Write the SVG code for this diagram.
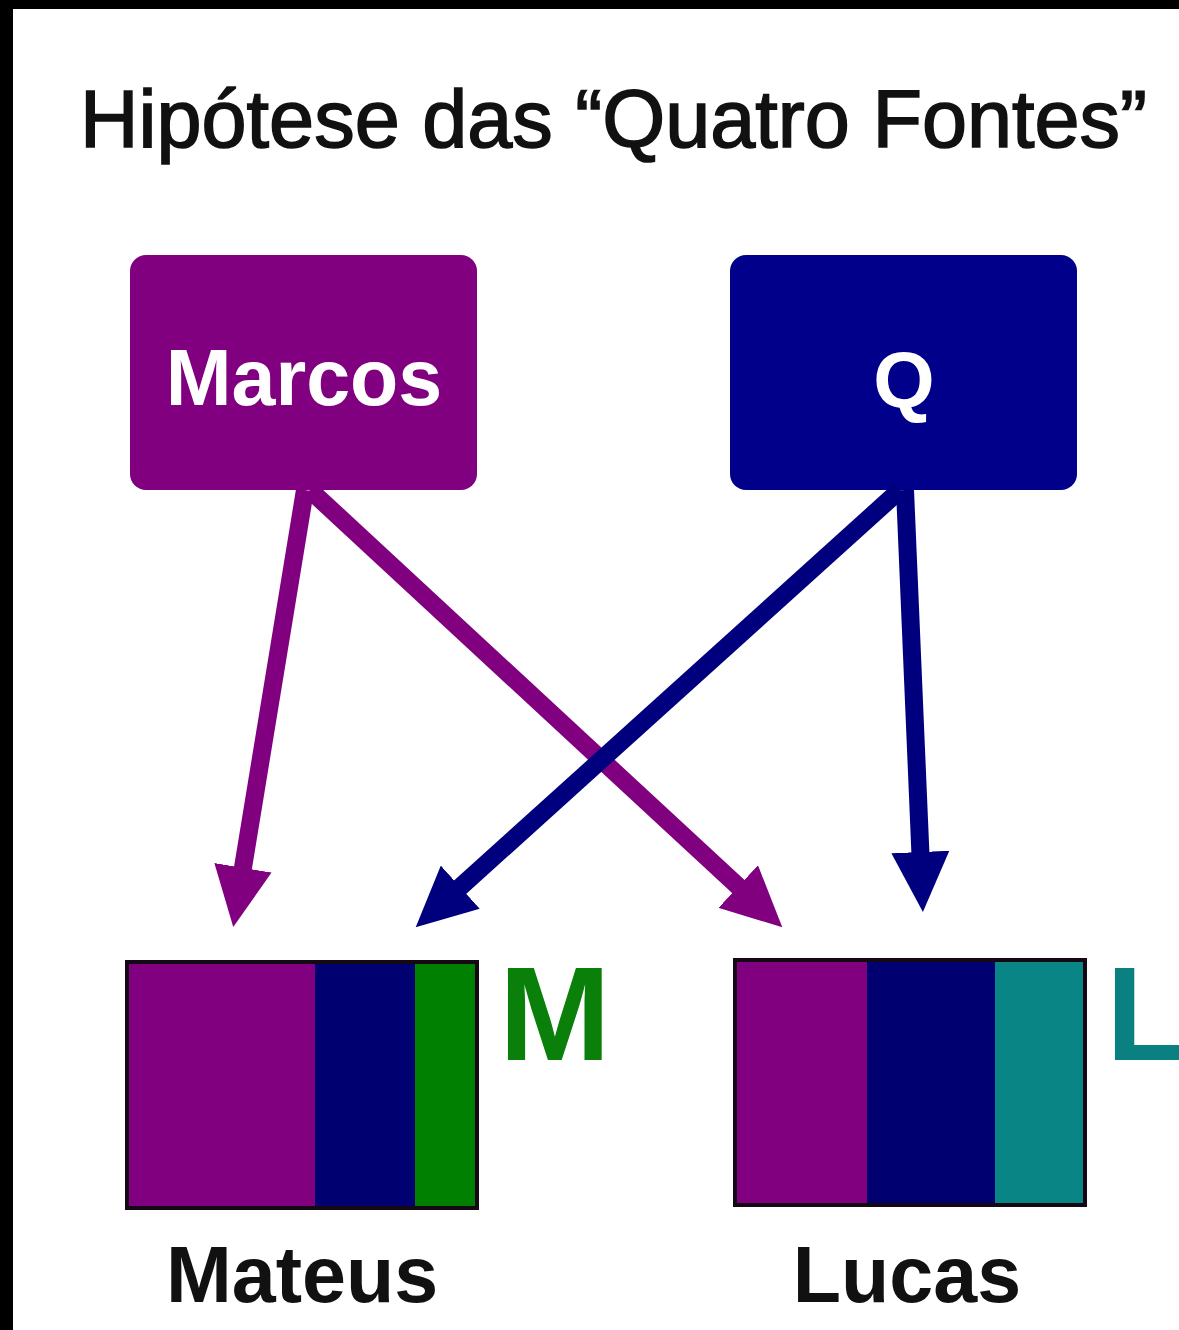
<svg xmlns="http://www.w3.org/2000/svg" width="1179" height="1330" viewBox="0 0 1179 1330">
  <style>
    .title { font-family: "Liberation Sans", Arial, sans-serif; font-size: 81px; fill: #111; stroke: #111; stroke-width: 1.6px; }
    .lbl { font-family: "Liberation Sans", Arial, sans-serif; font-weight: bold; }
    .src { font-size: 79px; fill: #ffffff; }
    .gospel { font-size: 79px; fill: #111; }
    .tag { font-size: 134px; }
    .edge { fill: none; stroke-width: 18; stroke-linecap: butt; }
    .frame { stroke: #150815; stroke-width: 4; fill: none; }
  </style>
  <defs>
    <marker id="headP" markerUnits="userSpaceOnUse" markerWidth="62" markerHeight="58" viewBox="0 0 62 58" refX="1" refY="29" orient="auto">
      <path d="M0,0 L60,29 L0,58 z" fill="#800080"/>
    </marker>
    <marker id="headN" markerUnits="userSpaceOnUse" markerWidth="62" markerHeight="58" viewBox="0 0 62 58" refX="1" refY="29" orient="auto">
      <path d="M0,0 L60,29 L0,58 z" fill="#00007f"/>
    </marker>
  </defs>

  <rect x="0" y="0" width="1179" height="1330" fill="#000"/>
  <rect x="13" y="9" width="1166" height="1321" fill="#fff"/>

  <text class="title" x="80" y="147">Hipótese das “Quatro Fontes”</text>

  <g id="marcos">
    <rect x="130" y="255" width="347" height="235" rx="16" fill="#800080"/>
    <text class="lbl src" x="304" y="405" text-anchor="middle">Marcos</text>
  </g>

  <g id="q">
    <rect x="730" y="255" width="347" height="235" rx="16" fill="#00008a"/>
    <text class="lbl src" x="904" y="407" text-anchor="middle" font-size="90">Q</text>
  </g>

  <g id="connectors">
    <line class="edge" x1="305" y1="490" x2="242.8" y2="868.8" stroke="#800080" marker-end="url(#headP)"/>
    <line class="edge" x1="310" y1="490" x2="739" y2="887.2" stroke="#800080" marker-end="url(#headP)"/>
    <line class="edge" x1="900" y1="490" x2="459.5" y2="887.8" stroke="#00007f" marker-end="url(#headN)"/>
    <line class="edge" x1="905" y1="490" x2="920.4" y2="853" stroke="#00007f" marker-end="url(#headN)"/>
  </g>

  <g id="mateus">
    <rect x="127" y="962" width="188" height="246" fill="#800080"/>
    <rect x="315" y="962" width="100" height="246" fill="#000070"/>
    <rect x="415" y="962" width="62" height="246" fill="#008000"/>
    <rect class="frame" x="127" y="962" width="350" height="246"/>
    <text class="lbl tag" x="499" y="1060" fill="#0a800a">M</text>
    <text class="lbl gospel" x="302" y="1302" text-anchor="middle">Mateus</text>
  </g>

  <g id="lucas">
    <rect x="735" y="960" width="132" height="245" fill="#800080"/>
    <rect x="867" y="960" width="128" height="245" fill="#000070"/>
    <rect x="995" y="960" width="90" height="245" fill="#0a8585"/>
    <rect class="frame" x="735" y="960" width="350" height="245"/>
    <text class="lbl tag" x="1106" y="1060" fill="#0a8080">L</text>
    <text class="lbl gospel" x="907" y="1302" text-anchor="middle">Lucas</text>
  </g>
</svg>
